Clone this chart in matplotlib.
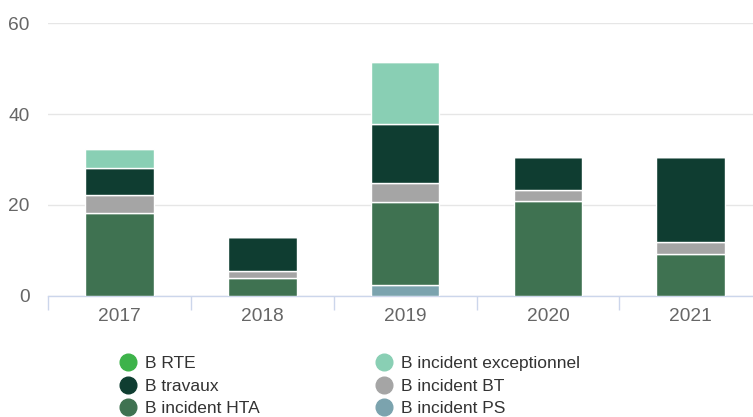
import numpy as np
import matplotlib.pyplot as plt
from matplotlib.lines import Line2D

plt.rcParams['font.family'] = ['Liberation Sans', 'DejaVu Sans']

years = ['2017', '2018', '2019', '2020', '2021']

# stacked from bottom to top
b_incident_ps = [0, 0, 2.4, 0, 0]
b_incident_hta = [18.2, 3.8, 18.1, 20.9, 9.2]
b_incident_bt = [3.9, 1.7, 4.2, 2.4, 2.7]
b_travaux = [5.9, 7.5, 13.0, 7.2, 18.6]
b_incident_exc = [4.4, 0, 13.7, 0, 0]
b_rte = [0, 0, 0, 0, 0]

series = [
    ('B incident PS', b_incident_ps, '#7ba3ae'),
    ('B incident HTA', b_incident_hta, '#3f7251'),
    ('B incident BT', b_incident_bt, '#a5a5a5'),
    ('B travaux', b_travaux, '#0f3d31'),
    ('B incident exceptionnel', b_incident_exc, '#89cfb4'),
    ('B RTE', b_rte, '#3db34a'),
]
colors = {name: c for name, _, c in series}

fig = plt.figure(figsize=(7.53, 4.17), dpi=100)
ax = fig.add_axes([48.3 / 753, 1 - 295.5 / 417, 713.7 / 753, (295.5 - 23.3) / 417])

x = np.arange(len(years))
bottom = np.zeros(len(years))
for name, vals, c in series:
    vals = np.array(vals, dtype=float)
    ax.bar(x, vals, 0.48, bottom=bottom, color=c, edgecolor='white', linewidth=1, zorder=3)
    bottom += vals

ax.set_xlim(-0.5, len(years) - 0.5)
ax.set_ylim(0, 60)
ax.set_yticks([0, 20, 40, 60])
ax.grid(axis='y', color='#e6e6e6', linewidth=1, zorder=0)
for s in ['top', 'right', 'left']:
    ax.spines[s].set_visible(False)
ax.spines['bottom'].set_color('#ccd6eb')
ax.spines['bottom'].set_linewidth(1)

ax.set_xticks(x)
ax.set_xticklabels(years)
ax.set_xticks(np.arange(-0.5, len(years)), minor=True)
ax.tick_params(axis='x', which='major', length=0, pad=9, labelsize=13.8, labelcolor='#666666')
ax.tick_params(axis='x', which='minor', length=10, width=1, color='#ccd6eb')
ax.tick_params(axis='y', length=0, pad=13.5, labelsize=13.8, labelcolor='#666666')

# legend, column order as in the reference
order = ['B RTE', 'B travaux', 'B incident HTA',
         'B incident exceptionnel', 'B incident BT', 'B incident PS']
handles = [Line2D([], [], marker='o', linestyle='', markersize=12,
                  markerfacecolor=colors[n], markeredgecolor=colors[n]) for n in order]
fig.legend(handles, order, ncol=2, loc='upper left',
           bbox_to_anchor=(119 / 753, 1 - 356 / 417), frameon=False,
           fontsize=12.5, labelspacing=0.43, handletextpad=0.5,
           handlelength=1.0, columnspacing=6.65, borderaxespad=0, borderpad=0,
           labelcolor='#333333')

fig.savefig('out.png', dpi=100)
